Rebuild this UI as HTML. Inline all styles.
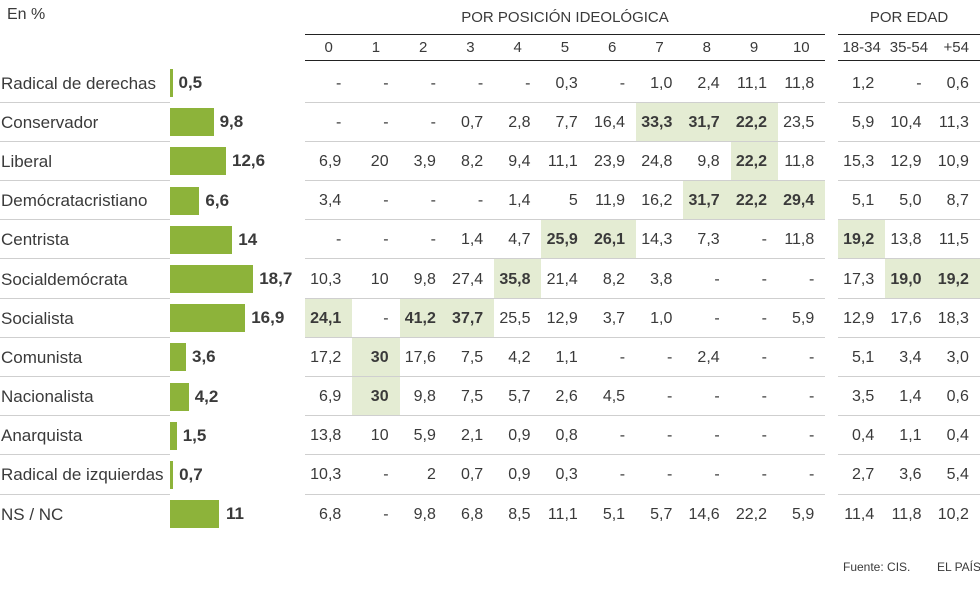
<!DOCTYPE html>
<html><head><meta charset="utf-8"><style>
*{margin:0;padding:0;box-sizing:border-box}
body{width:980px;height:601px;background:#fff;position:relative;overflow:hidden;font-family:"Liberation Sans",sans-serif;color:#3a3a3a;font-size:16px}
.abs{position:absolute;white-space:nowrap}
.g{position:absolute;left:0;top:63.5px;display:grid;grid-template-columns:170px 135px repeat(11,47.3px) 12.7px repeat(3,47.3px);grid-auto-rows:39.2px}
.g>div{display:flex;align-items:center;justify-content:flex-end;padding-right:11px;border-bottom:1px solid #cfcfcf;white-space:nowrap;padding-top:2px}
.g>div.l{justify-content:flex-start;padding-left:1px;padding-right:0;font-size:17px}
.g>div.b{justify-content:flex-start;padding:0;border-bottom:none}
.g>div.s{border-bottom:none;padding:0}
.g>div.n{border-bottom:none}
.g>div.h{background:#e4ecd3;font-weight:bold}
.bar{height:28px;background:#8db33a;margin-right:6px}
.b span{font-weight:bold;font-size:17px}
.hd{position:absolute;top:34px;height:27px;border-top:1px solid #222;border-bottom:1px solid #222;display:flex}
.hd div{width:47.3px;text-align:center;line-height:26px;font-size:15px}
</style></head><body>
<div class="abs" style="left:7px;top:6px;font-size:16px">En %</div>
<div class="abs" style="left:305px;width:520px;top:9px;text-align:center;font-size:15px">POR POSICIÓN IDEOLÓGICA</div>
<div class="abs" style="left:838px;width:142px;top:9px;text-align:center;font-size:15px">POR EDAD</div>
<div class="hd" style="left:305px;width:520px"><div>0</div><div>1</div><div>2</div><div>3</div><div>4</div><div>5</div><div>6</div><div>7</div><div>8</div><div>9</div><div>10</div></div>
<div class="hd" style="left:838px;width:142px"><div>18-34</div><div>35-54</div><div>+54</div></div>
<div class="g">
<div class="l">Radical de derechas</div><div class="b"><i class="bar" style="width:2.5px"></i><span>0,5</span></div><div>-</div><div>-</div><div>-</div><div>-</div><div>-</div><div>0,3</div><div>-</div><div>1,0</div><div>2,4</div><div>11,1</div><div>11,8</div><div class="s"></div><div>1,2</div><div>-</div><div>0,6</div>
<div class="l">Conservador</div><div class="b"><i class="bar" style="width:43.6px"></i><span>9,8</span></div><div>-</div><div>-</div><div>-</div><div>0,7</div><div>2,8</div><div>7,7</div><div>16,4</div><div class="h">33,3</div><div class="h">31,7</div><div class="h">22,2</div><div>23,5</div><div class="s"></div><div>5,9</div><div>10,4</div><div>11,3</div>
<div class="l">Liberal</div><div class="b"><i class="bar" style="width:56px"></i><span>12,6</span></div><div>6,9</div><div>20</div><div>3,9</div><div>8,2</div><div>9,4</div><div>11,1</div><div>23,9</div><div>24,8</div><div>9,8</div><div class="h">22,2</div><div>11,8</div><div class="s"></div><div>15,3</div><div>12,9</div><div>10,9</div>
<div class="l">Demócratacristiano</div><div class="b"><i class="bar" style="width:29.4px"></i><span>6,6</span></div><div>3,4</div><div>-</div><div>-</div><div>-</div><div>1,4</div><div>5</div><div>11,9</div><div>16,2</div><div class="h">31,7</div><div class="h">22,2</div><div class="h">29,4</div><div class="s"></div><div>5,1</div><div>5,0</div><div>8,7</div>
<div class="l">Centrista</div><div class="b"><i class="bar" style="width:62.3px"></i><span>14</span></div><div>-</div><div>-</div><div>-</div><div>1,4</div><div>4,7</div><div class="h">25,9</div><div class="h">26,1</div><div>14,3</div><div>7,3</div><div>-</div><div>11,8</div><div class="s"></div><div class="h">19,2</div><div>13,8</div><div>11,5</div>
<div class="l">Socialdemócrata</div><div class="b"><i class="bar" style="width:83.2px"></i><span>18,7</span></div><div>10,3</div><div>10</div><div>9,8</div><div>27,4</div><div class="h">35,8</div><div>21,4</div><div>8,2</div><div>3,8</div><div>-</div><div>-</div><div>-</div><div class="s"></div><div>17,3</div><div class="h">19,0</div><div class="h">19,2</div>
<div class="l">Socialista</div><div class="b"><i class="bar" style="width:75.2px"></i><span>16,9</span></div><div class="h">24,1</div><div>-</div><div class="h">41,2</div><div class="h">37,7</div><div>25,5</div><div>12,9</div><div>3,7</div><div>1,0</div><div>-</div><div>-</div><div>5,9</div><div class="s"></div><div>12,9</div><div>17,6</div><div>18,3</div>
<div class="l">Comunista</div><div class="b"><i class="bar" style="width:16px"></i><span>3,6</span></div><div>17,2</div><div class="h">30</div><div>17,6</div><div>7,5</div><div>4,2</div><div>1,1</div><div>-</div><div>-</div><div>2,4</div><div>-</div><div>-</div><div class="s"></div><div>5,1</div><div>3,4</div><div>3,0</div>
<div class="l">Nacionalista</div><div class="b"><i class="bar" style="width:18.7px"></i><span>4,2</span></div><div>6,9</div><div class="h">30</div><div>9,8</div><div>7,5</div><div>5,7</div><div>2,6</div><div>4,5</div><div>-</div><div>-</div><div>-</div><div>-</div><div class="s"></div><div>3,5</div><div>1,4</div><div>0,6</div>
<div class="l">Anarquista</div><div class="b"><i class="bar" style="width:6.7px"></i><span>1,5</span></div><div>13,8</div><div>10</div><div>5,9</div><div>2,1</div><div>0,9</div><div>0,8</div><div>-</div><div>-</div><div>-</div><div>-</div><div>-</div><div class="s"></div><div>0,4</div><div>1,1</div><div>0,4</div>
<div class="l">Radical de izquierdas</div><div class="b"><i class="bar" style="width:3.1px"></i><span>0,7</span></div><div>10,3</div><div>-</div><div>2</div><div>0,7</div><div>0,9</div><div>0,3</div><div>-</div><div>-</div><div>-</div><div>-</div><div>-</div><div class="s"></div><div>2,7</div><div>3,6</div><div>5,4</div>
<div class="l n">NS / NC</div><div class="b"><i class="bar" style="width:49px;margin-right:7px"></i><span>11</span></div><div class="n">6,8</div><div class="n">-</div><div class="n">9,8</div><div class="n">6,8</div><div class="n">8,5</div><div class="n">11,1</div><div class="n">5,1</div><div class="n">5,7</div><div class="n">14,6</div><div class="n">22,2</div><div class="n">5,9</div><div class="s"></div><div class="n">11,4</div><div class="n">11,8</div><div class="n">10,2</div>
</div>
<div class="abs" style="left:843px;top:560px;font-size:12px">Fuente: CIS.</div>
<div class="abs" style="left:937px;top:560px;font-size:12px">EL PAÍS</div>
</body></html>
